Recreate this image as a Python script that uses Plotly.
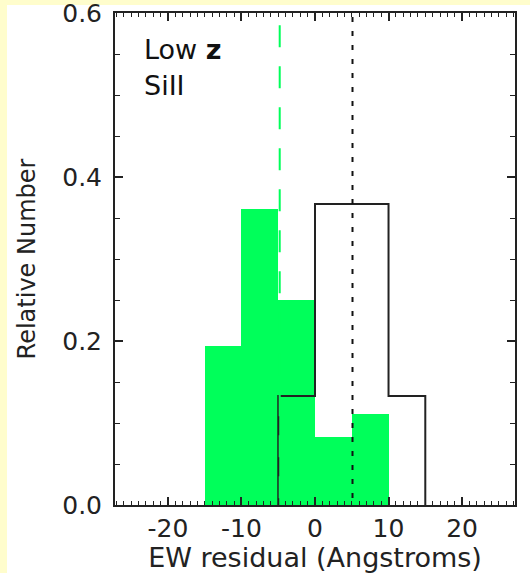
import plotly.graph_objects as go

# Data
green_centers = [-12.5, -7.5, -2.5, 2.5, 7.5]
green_values = [0.194, 0.361, 0.250, 0.083, 0.111]
bin_width = 5

black_edges = [-5, 0, 5, 10, 15]
black_values = [0.133, 0.367, 0.367, 0.133]

green_mean = -4.8
black_mean = 5.1

x_ticks = [-20, -10, 0, 10, 20]
x_tick_labels = ["-20", "-10", "0", "10", "20"]
y_ticks = [0.0, 0.2, 0.4, 0.6]
y_tick_labels = ["0.0", "0.2", "0.4", "0.6"]

GREEN = "#00ff5a"
INK = "#222222"
YELLOW = "#fffdcc"
FONT = "DejaVu Sans"

fig = go.Figure()

fig.add_trace(go.Bar(
    x=green_centers, y=green_values, width=bin_width,
    marker=dict(color=GREEN, line=dict(width=0)),
    showlegend=False, hoverinfo="skip"))

step_x = [black_edges[0]] + black_edges
step_y = [0] + black_values + [0]
fig.add_trace(go.Scatter(
    x=step_x, y=step_y, mode="lines", line=dict(color=INK, width=2, shape="hv"),
    showlegend=False, hoverinfo="skip"))

# mean lines
fig.add_trace(go.Scatter(
    x=[green_mean, green_mean], y=[0.585, 0], mode="lines",
    line=dict(color=GREEN, width=2, dash="22px,19px"),
    showlegend=False, hoverinfo="skip"))
fig.add_trace(go.Scatter(
    x=[black_mean, black_mean], y=[0.595, 0], mode="lines",
    line=dict(color="#111111", width=2, dash="5px,9px"),
    showlegend=False, hoverinfo="skip"))

# yellow page border strips (left and top)
fig.add_shape(type="rect", xref="paper", yref="paper",
              x0=-0.30, x1=-0.27, y0=-0.2, y1=1.05,
              fillcolor=YELLOW, line=dict(width=0), layer="below")
fig.add_shape(type="rect", xref="paper", yref="paper",
              x0=-0.30, x1=1.05, y0=1.0163, y1=1.05,
              fillcolor=YELLOW, line=dict(width=0), layer="below")

fig.add_annotation(text="Low <b>z</b>", xref="paper", yref="paper",
                   x=0.068, y=0.925, xanchor="left", yanchor="middle",
                   showarrow=False, font=dict(family=FONT, size=27, color="#111111"))
fig.add_annotation(text="SiII", xref="paper", yref="paper",
                   x=0.068, y=0.852, xanchor="left", yanchor="middle",
                   showarrow=False, font=dict(family=FONT, size=27, color="#111111"))

axis_common = dict(
    showgrid=False, zeroline=False, showline=True, linecolor=INK, linewidth=2,
    mirror="ticks", ticks="inside", tickcolor=INK, tickwidth=1.5,
    tickfont=dict(family=FONT, size=25, color=INK), ticklabeloverflow="allow",
)

fig.update_xaxes(
    range=[-27.2, 27.2], tickvals=x_ticks, ticktext=x_tick_labels, ticklen=8,
    minor=dict(ticks="inside", dtick=1, ticklen=4, tickcolor=INK, tickwidth=1.2),
    title=dict(text="EW residual (Angstroms)", font=dict(family=FONT, size=27, color=INK), standoff=2),
    **axis_common)
fig.update_yaxes(
    range=[0, 0.6], tickvals=y_ticks, ticktext=y_tick_labels, ticklen=8,
    minor=dict(ticks="inside", dtick=0.05, ticklen=5, tickcolor=INK, tickwidth=1.2),
    title=dict(text="Relative Number", font=dict(family=FONT, size=24, color=INK), standoff=20),
    ticklabelstandoff=6,
    **axis_common)

fig.update_layout(
    width=530, height=573,
    margin=dict(l=115, r=15, t=13, b=68, autoexpand=False),
    paper_bgcolor="white", plot_bgcolor="white",
    bargap=0,
)

fig.write_html("out.html", config={"displayModeBar": False},
               post_script=["document.body.style.margin='0';document.body.style.overflow='hidden';"])
